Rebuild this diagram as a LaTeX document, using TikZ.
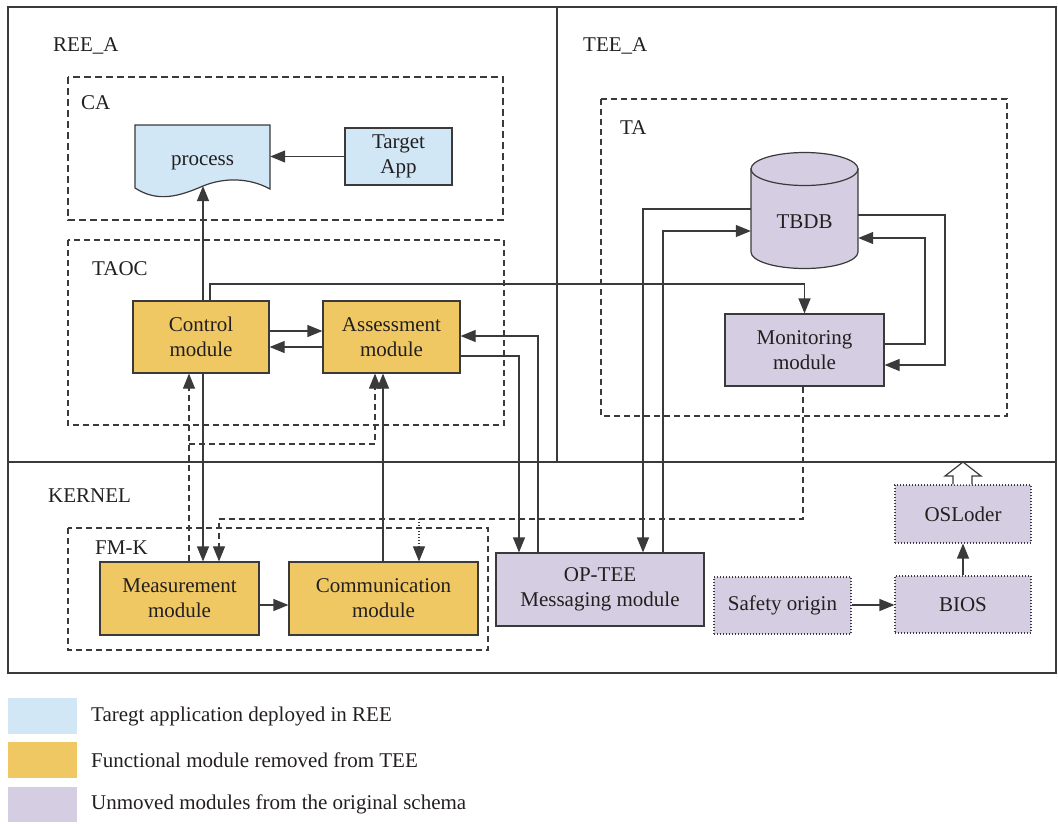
\documentclass[tikz,border=0pt]{standalone}
\usepackage{fontspec}
\setmainfont{Liberation Serif}
\usetikzlibrary{arrows.meta}
\definecolor{lblue}{HTML}{D1E7F6}
\definecolor{lyel}{HTML}{EFC863}
\definecolor{lpur}{HTML}{D5CEE2}
\definecolor{ln}{HTML}{3A3A3A}
\definecolor{tx}{HTML}{231F20}
\tikzset{
  every node/.style={font=\fontsize{21}{25}\selectfont, text=tx},
  mbox/.style={draw=ln, line width=1.2pt, align=center, inner sep=0pt},
  arr/.style={draw=ln, line width=1.2pt, -{Triangle[length=15pt,width=12pt]}},
  plain/.style={draw=ln, line width=1.2pt},
  dsh/.style={draw=ln, line width=1.1pt, dash pattern=on 6pt off 4pt},
  dot/.style={draw=ln, line width=1.1pt, dash pattern=on 1pt off 2pt},
  lbl/.style={anchor=base west, inner sep=0pt},
}
\begin{document}
\begin{tikzpicture}[x=1pt,y=-1pt]
\useasboundingbox (0,0) rectangle (1058,823);
% frame
\draw[plain] (8,7) rectangle (1056,673);
\draw[plain] (8,462) -- (1056,462);
\draw[plain] (557,7) -- (557,462);
\node[lbl] (lree) at (53,51) {REE\_A};
\node[lbl] (ltee) at (583,51) {TEE\_A};
\node[lbl] (lker) at (48,502) {KERNEL};
% containers
\draw[draw=ln, line width=1.7pt, dash pattern=on 7pt off 4pt] (68,77) rectangle (503,220);
\node[lbl] (lca) at (81,109) {CA};
\draw[dsh] (68,240) rectangle (504,425);
\node[lbl] (ltaoc) at (92,275) {TAOC};
\draw[dsh] (601,99) rectangle (1007,416);
\node[lbl] (lta) at (620,134) {TA};
\draw[dsh] (68,528) rectangle (488,650);
\node[lbl] (lfmk) at (95,554) {FM-K};
% process document shape
\path[fill=lblue, draw=ln, line width=1.2pt] (135,125) -- (270,125) -- (270,189)
  .. controls (250,178) and (225,177) .. (203,186)
  .. controls (180,196) and (158,203) .. (135,188) -- cycle;
\node[inner sep=0pt, minimum width=135pt, minimum height=70pt] (proc) at (202.5,163) {process};
\coordinate (procb) at (203,186);
\node[mbox, fill=lblue, minimum width=107pt, minimum height=57pt] (tapp) at (398.5,156.5) {Target\\App};
% TAOC modules
\node[mbox, fill=lyel, minimum width=136pt, minimum height=72pt] (ctrl) at (201,337) {Control\\module};
\node[mbox, fill=lyel, minimum width=137pt, minimum height=72pt] (asmt) at (391.5,337) {Assessment\\module};
% TA
\path[fill=lpur, draw=ln, line width=1.2pt] (751,169) -- (751,252)
  arc[start angle=180, end angle=360, x radius=53.5pt, y radius=16.5pt] -- (858,169) -- cycle;
\draw[fill=lpur, draw=ln, line width=1.2pt] (804.5,169) ellipse [x radius=53.5pt, y radius=16.5pt];
\node[inner sep=0pt, minimum width=107pt, minimum height=100pt] (db) at (804.5,222) {TBDB};
\node[mbox, fill=lpur, minimum width=159pt, minimum height=72pt] (mon) at (804.5,350) {Monitoring\\module};
% kernel
\node[mbox, fill=lyel, minimum width=159pt, minimum height=73pt] (meas) at (179.5,598.5) {Measurement\\module};
\node[mbox, fill=lyel, minimum width=189pt, minimum height=73pt] (comm) at (383.5,598.5) {Communication\\module};
\node[mbox, fill=lpur, minimum width=208pt, minimum height=73pt] (optee) at (600,589.5) {OP-TEE\\Messaging module};
\node[mbox, dot, fill=lpur, minimum width=137pt, minimum height=57pt] (safe) at (782.5,605.5) {Safety origin};
\node[mbox, dot, fill=lpur, minimum width=136pt, minimum height=57pt] (bios) at (963,604.5) {BIOS};
\node[mbox, dot, fill=lpur, minimum width=136pt, minimum height=58pt] (osl) at (963,514) {OSLoder};
% connectors
\draw[arr] (tapp.west) -- (proc.east |- tapp.west);
\draw[arr] (procb |- ctrl.north) -- (procb);
\draw[arr] (ctrl.north -| 210,0) -- (210,284) -| (mon.north);
\draw[arr] (ctrl.east |- 0,331) -- (asmt.west |- 0,331);
\draw[arr] (asmt.west |- 0,347) -- (ctrl.east |- 0,347);
\draw[arr] (optee.north -| 538,0) |- (asmt.east |- 0,336);
\draw[arr] (asmt.east |- 0,356) -| (optee.north -| 519,0);
\draw[arr] (db.west |- 0,209) -| (optee.north -| 643,0);
\draw[arr] (optee.north -| 663,0) |- (db.west |- 0,231);
\draw[arr] (db.east |- 0,215) -| (945,365) -- (mon.east |- 0,365);
\draw[arr] (mon.east |- 0,344) -| (925,238) -- (db.east |- 0,238);
\draw[arr] (ctrl.south -| 203,0) -- (meas.north -| 203,0);
\draw[arr, dsh] (meas.north -| 189,0) -- (ctrl.south -| 189,0);
\coordinate (br1) at (189,444);
\draw[arr, dsh] (br1) -| (asmt.south -| 375,0);
\draw[arr] (comm.north -| 383,0) -- (asmt.south -| 383,0);
\draw[arr, dsh] (mon.south -| 803,0) |- (219,519) -- (meas.north -| 219,0);
\coordinate (br2) at (419,519);
\draw[arr, dot] (br2) -- (comm.north -| br2);
\draw[arr] (meas.east |- 0,605) -- (comm.west |- 0,605);
\draw[arr] (safe.east |- 0,605) -- (bios.west |- 0,605);
\draw[arr] (bios.north) -- (osl.south);
% hollow block arrow
\coordinate (oslt) at (963,462);
\draw[draw=ln, line width=1.2pt, fill=white] (osl.north -| 953,0) -- (953,476) -- (945,476) -- (oslt) -- (981,476) -- (972,476) -- (osl.north -| 972,0);
% legend
\fill[lblue] (8,698) rectangle (77,734);
\fill[lyel] (8,742) rectangle (77,778);
\fill[lpur] (8,787) rectangle (77,822);
\node[anchor=west, inner sep=0pt] (lg1) at (91,716) {Taregt application deployed in REE};
\node[anchor=west, inner sep=0pt] (lg2) at (91,760) {Functional module removed from TEE};
\node[anchor=west, inner sep=0pt] (lg3) at (91,804) {Unmoved modules from the original schema};
\end{tikzpicture}
\end{document}
